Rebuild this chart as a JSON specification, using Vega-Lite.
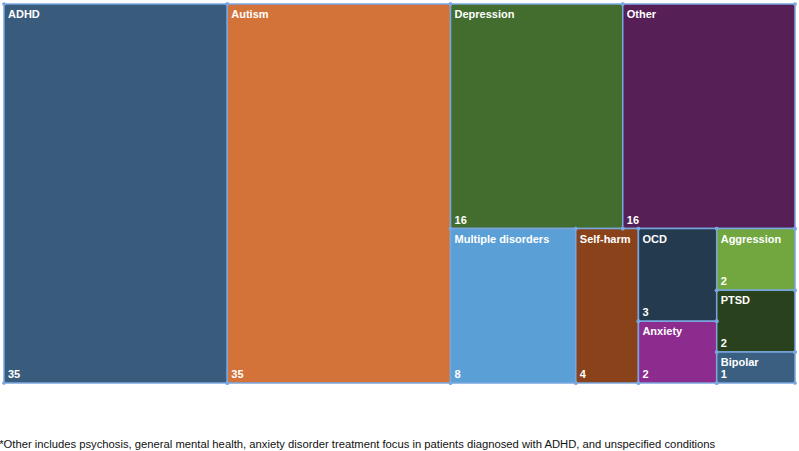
{
  "$schema": "https://vega.github.io/schema/vega-lite/v6.json",
  "width": 791,
  "height": 379,
  "autosize": "none",
  "padding": {"left": 4, "top": 4, "right": 4, "bottom": 68},
  "background": "#ffffff",
  "view": {"stroke": null},
  "title": {
    "text": "*Other includes psychosis, general mental health, anxiety disorder treatment focus in patients diagnosed with ADHD, and unspecified conditions",
    "orient": "bottom",
    "anchor": "start",
    "baseline": "alphabetic",
    "offset": 63,
    "dx": -3,
    "font": "Liberation Sans",
    "fontSize": 11.25,
    "fontWeight": "normal",
    "color": "#111111"
  },
  "data": {
    "values": [
      {"name": "ADHD", "value": 35, "order": 1, "a": "ADHD", "b": "ADHD", "c": "ADHD"},
      {"name": "Autism", "value": 35, "order": 2, "a": "Autism", "b": "Autism", "c": "Autism"},
      {"name": "Depression", "value": 16, "order": 3, "a": "Rest", "b": "top", "c": "Depression"},
      {"name": "Other", "value": 16, "order": 4, "a": "Rest", "b": "top", "c": "Other"},
      {"name": "Multiple disorders", "value": 8, "order": 5, "a": "Rest", "b": "bottom", "c": "Multiple disorders"},
      {"name": "Self-harm", "value": 4, "order": 6, "a": "Rest", "b": "bottom", "c": "Self-harm"},
      {"name": "OCD", "value": 3, "order": 7, "a": "Rest", "b": "bottom", "c": "colA"},
      {"name": "Anxiety", "value": 2, "order": 8, "a": "Rest", "b": "bottom", "c": "colA"},
      {"name": "Aggression", "value": 2, "order": 9, "a": "Rest", "b": "bottom", "c": "colB"},
      {"name": "PTSD", "value": 2, "order": 10, "a": "Rest", "b": "bottom", "c": "colB"},
      {"name": "Bipolar", "value": 1, "order": 11, "a": "Rest", "b": "bottom", "c": "colB"}
    ]
  },
  "transform": [
    {"joinaggregate": [{"op": "sum", "field": "value", "as": "total"}]},
    {"window": [{"op": "sum", "field": "value", "as": "cumA"}], "sort": [{"field": "order"}], "frame": [null, 0]},
    {"calculate": "datum.cumA - datum.value", "as": "sA"},
    {"joinaggregate": [{"op": "min", "field": "sA", "as": "a0"}, {"op": "sum", "field": "value", "as": "va"}], "groupby": ["a"]},
    {"window": [{"op": "sum", "field": "value", "as": "cumB"}], "groupby": ["a"], "sort": [{"field": "order"}], "frame": [null, 0]},
    {"calculate": "datum.cumB - datum.value", "as": "sB"},
    {"joinaggregate": [{"op": "min", "field": "sB", "as": "b0"}, {"op": "sum", "field": "value", "as": "vb"}], "groupby": ["a", "b"]},
    {"window": [{"op": "sum", "field": "value", "as": "cumC"}], "groupby": ["a", "b"], "sort": [{"field": "order"}], "frame": [null, 0]},
    {"calculate": "datum.cumC - datum.value", "as": "sC"},
    {"joinaggregate": [{"op": "min", "field": "sC", "as": "c0"}, {"op": "sum", "field": "value", "as": "vc"}], "groupby": ["a", "b", "c"]},
    {"window": [{"op": "sum", "field": "value", "as": "cumD"}], "groupby": ["a", "b", "c"], "sort": [{"field": "order"}], "frame": [null, 0]},
    {"calculate": "datum.cumD - datum.value", "as": "sD"},
    {"calculate": "datum.a0 / datum.total + datum.c0 / datum.vb * datum.va / datum.total", "as": "x0"},
    {"calculate": "datum.x0 + datum.vc / datum.vb * datum.va / datum.total", "as": "x1"},
    {"calculate": "datum.b0 / datum.va + datum.sD / datum.vc * datum.vb / datum.va", "as": "y0"},
    {"calculate": "datum.y0 + datum.value / datum.vc * datum.vb / datum.va", "as": "y1"}
  ],
  "encoding": {
    "x": {"field": "x0", "type": "quantitative", "scale": {"domain": [0, 1], "nice": false, "zero": false}, "axis": null},
    "y": {"field": "y0", "type": "quantitative", "scale": {"domain": [0, 1], "nice": false, "zero": false, "reverse": true}, "axis": null}
  },
  "layer": [
    {
      "mark": {"type": "rect", "stroke": "#7aa6e0", "strokeWidth": 1.5},
      "encoding": {
        "x2": {"field": "x1"},
        "y2": {"field": "y1"},
        "color": {
          "field": "name",
          "type": "nominal",
          "legend": null,
          "scale": {
            "domain": ["ADHD", "Autism", "Depression", "Other", "Multiple disorders", "Self-harm", "OCD", "Anxiety", "Aggression", "PTSD", "Bipolar"],
            "range": ["#3a5c7c", "#d3733a", "#426d2e", "#561f55", "#5a9fd6", "#8a421b", "#243a4f", "#8c2c8e", "#72a73f", "#2a411e", "#3a5f80"]
          }
        }
      }
    },
    {
      "mark": {"type": "point", "filled": true, "size": 14, "color": "#7aa6e0", "opacity": 1}
    },
    {
      "mark": {"type": "point", "filled": true, "size": 14, "color": "#7aa6e0", "opacity": 1},
      "encoding": {"y": {"field": "y1", "type": "quantitative"}}
    },
    {
      "mark": {"type": "point", "filled": true, "size": 14, "color": "#7aa6e0", "opacity": 1},
      "encoding": {"x": {"field": "x1", "type": "quantitative"}}
    },
    {
      "mark": {"type": "point", "filled": true, "size": 14, "color": "#7aa6e0", "opacity": 1},
      "encoding": {"x": {"field": "x1", "type": "quantitative"}, "y": {"field": "y1", "type": "quantitative"}}
    },
    {
      "mark": {"type": "text", "align": "left", "baseline": "top", "dx": 4, "dy": 5, "font": "Liberation Sans", "fontSize": 11, "fontWeight": "bold", "color": "#ffffff"},
      "encoding": {"text": {"field": "name"}}
    },
    {
      "mark": {"type": "text", "align": "left", "baseline": "alphabetic", "dx": 4, "dy": -5, "font": "Liberation Sans", "fontSize": 11, "fontWeight": "bold", "color": "#ffffff"},
      "encoding": {"y": {"field": "y1", "type": "quantitative"}, "text": {"field": "value"}}
    }
  ]
}
